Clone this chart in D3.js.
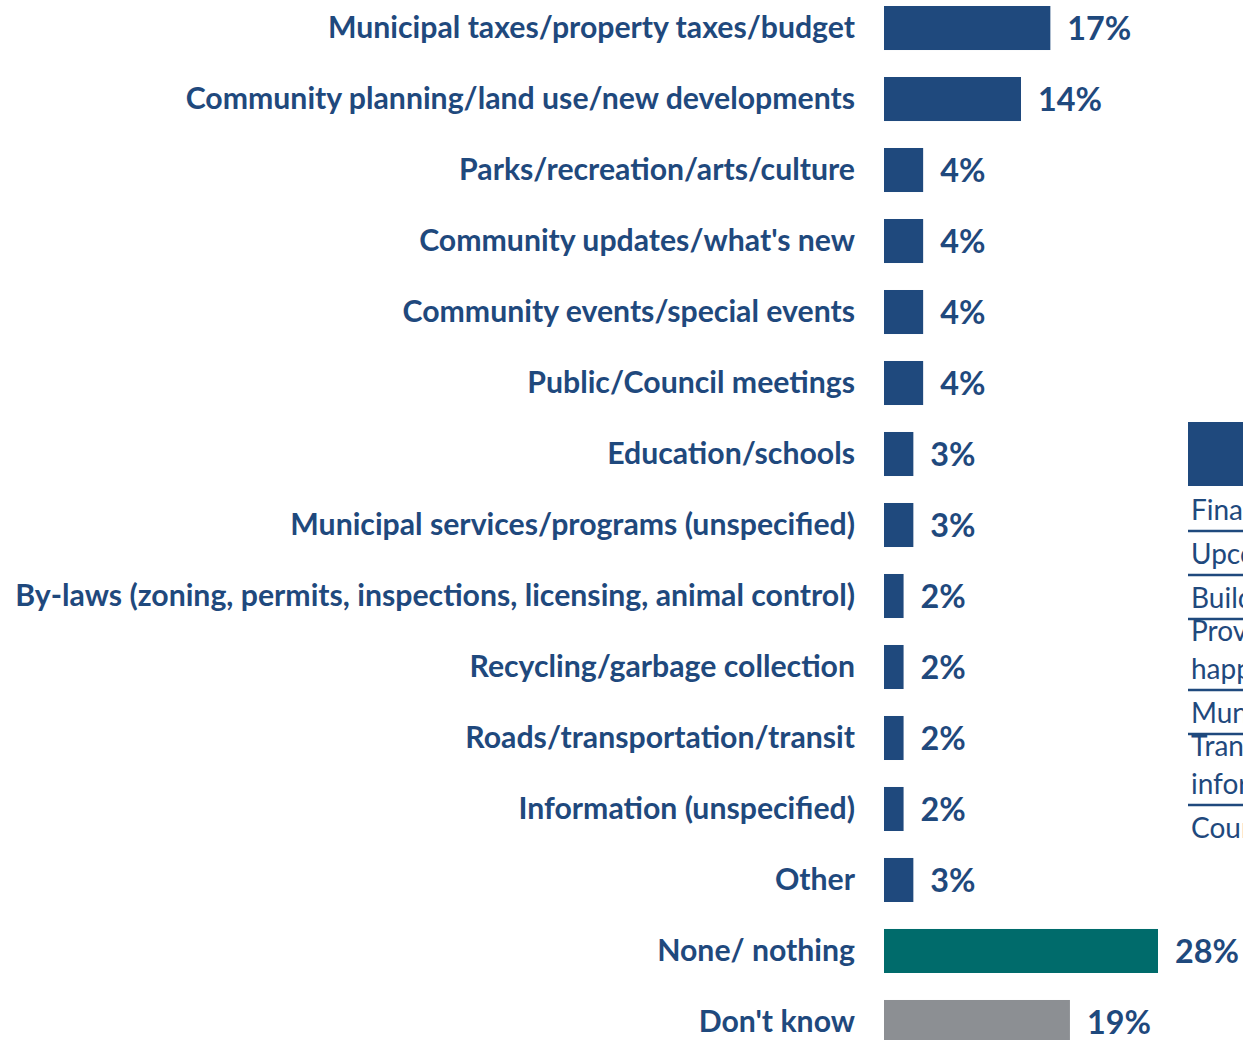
<!DOCTYPE html>
<html>
<head>
<meta charset="utf-8">
<script src="https://cdn.jsdelivr.net/npm/d3@7"></script>
<style>
  html, body { margin: 0; padding: 0; background: #fff; overflow: hidden; }
  svg { display: block; }
  .lbl { font-family: Lato, "Open Sans", sans-serif; font-weight: 700; fill: #1f497d; }
  .val { font-family: Lato, "Open Sans", sans-serif; font-weight: 700; fill: #1f497d; }
  .tbl { font-family: Lato, "Open Sans", sans-serif; font-weight: 400; fill: #1f497d; }
</style>
</head>
<body>
<div id="chart"></div>
<script>
// topics mentioned (% of respondents)
const categories = [
  "Municipal taxes/property taxes/budget",
  "Community planning/land use/new developments",
  "Parks/recreation/arts/culture",
  "Community updates/what's new",
  "Community events/special events",
  "Public/Council meetings",
  "Education/schools",
  "Municipal services/programs (unspecified)",
  "By-laws (zoning, permits, inspections, licensing, animal control)",
  "Recycling/garbage collection",
  "Roads/transportation/transit",
  "Information (unspecified)",
  "Other",
  "None/ nothing",
  "Don't know"
];
const values = [17, 14, 4, 4, 4, 4, 3, 3, 2, 2, 2, 2, 3, 28, 19];
const barGroups = ["topic", "topic", "topic", "topic", "topic", "topic", "topic", "topic",
  "topic", "topic", "topic", "topic", "topic", "none", "dk"];

// second panel, cut off at the right edge of the page
const tableRows = [
  ["Financial information"],
  ["Upcoming events"],
  ["Building permits"],
  ["Provide updates on what's", "happening"],
  ["Municipal services"],
  ["Transparency/more", "information"],
  ["Council decisions"]
];

const width = 1243, height = 1040;
const colors = { topic: "#1f497d", none: "#006b6b", dk: "#8c8f93" };

const svg = d3.select("#chart").append("svg")
  .attr("width", width)
  .attr("height", height);

const x = d3.scaleLinear().domain([0, 28]).range([0, 274]);
const y = d3.scaleBand()
  .domain(categories)
  .range([6, 1044])
  .paddingInner(0.38)
  .paddingOuter(0);

const x0 = 884;
const data = categories.map((c, i) => ({ cat: c, v: values[i], g: barGroups[i] }));

svg.append("g").selectAll("rect")
  .data(data)
  .join("rect")
  .attr("x", x0)
  .attr("y", d => y(d.cat))
  .attr("width", d => x(d.v))
  .attr("height", y.bandwidth())
  .attr("fill", d => colors[d.g]);

// category labels, sized so the longest one spans like the original
const labels = svg.append("g").selectAll("text")
  .data(data)
  .join("text")
  .attr("class", "lbl")
  .attr("x", 855)
  .attr("y", d => y(d.cat) + y.bandwidth() / 2)
  .attr("text-anchor", "end")
  .style("font-size", "28px")
  .text(d => d.cat);
let maxW = d3.max(labels.nodes(), n => n.getComputedTextLength());
const lblSize = 28 * 840 / maxW;
labels.style("font-size", lblSize + "px").attr("dy", "0.33em");

// value labels
const vals = svg.append("g").selectAll("text")
  .data(data)
  .join("text")
  .attr("class", "val")
  .attr("x", d => x0 + x(d.v) + 17)
  .attr("y", d => y(d.cat) + y.bandwidth() / 2)
  .style("font-size", "32px")
  .text(d => d.v + "%");
const w17 = vals.filter(d => d.v === 17).node().getComputedTextLength();
const valSize = 32 * 64 / w17;
vals.style("font-size", valSize + "px").attr("dy", "0.38em");

// partial table on the right
const tx = 1188;
const tg = svg.append("g");
tg.append("rect")
  .attr("x", tx).attr("y", 422)
  .attr("width", 300).attr("height", 64)
  .attr("fill", "#1f497d");

let rowTop = 487;
tableRows.forEach((lines, i) => {
  const rowH = 44 + (lines.length - 1) * 27;
  const rowBottom = rowTop + rowH;
  lines.forEach((t, k) => {
    tg.append("text")
      .attr("class", "tbl")
      .attr("x", tx + 3)
      .attr("y", rowBottom - 11 - (lines.length - 1 - k) * 38)
      .style("font-size", "28px")
      .text(t);
  });
  if (i < tableRows.length - 1) {
    tg.append("line")
      .attr("x1", tx).attr("x2", tx + 300)
      .attr("y1", rowBottom).attr("y2", rowBottom)
      .attr("stroke", "#1f497d")
      .attr("stroke-width", 2.5);
  }
  rowTop = rowBottom;
});
</script>
</body>
</html>
